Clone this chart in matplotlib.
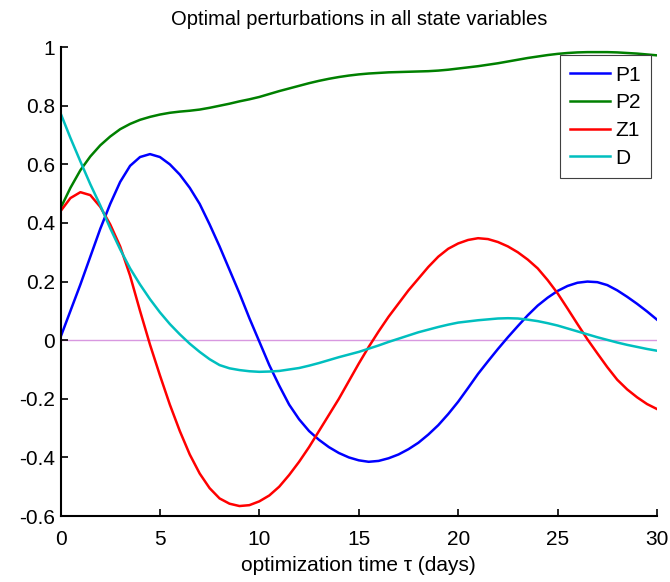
import numpy as np
import matplotlib
matplotlib.use("Agg")
from matplotlib import pyplot as plt

plt.rcParams['font.family'] = ['Liberation Sans', 'DejaVu Sans']

# optimization time (days), half-day samples
tau = np.arange(0, 61) * 0.5

p1 = [0.01, 0.10, 0.19, 0.285, 0.38, 0.465, 0.54, 0.595, 0.625, 0.635,
      0.625, 0.60, 0.565, 0.52, 0.465, 0.395, 0.32, 0.24, 0.16, 0.075,
      -0.005, -0.085, -0.155, -0.22, -0.27, -0.31, -0.34, -0.365, -0.385, -0.40,
      -0.41, -0.415, -0.412, -0.403, -0.39, -0.372, -0.35, -0.322, -0.29, -0.252,
      -0.21, -0.163, -0.115, -0.072, -0.03, 0.01, 0.048, 0.085, 0.118, 0.145,
      0.168, 0.185, 0.196, 0.2, 0.198, 0.188, 0.17, 0.148, 0.124, 0.098,
      0.07]
p2 = [0.45, 0.52, 0.58, 0.627, 0.665, 0.695, 0.72, 0.738, 0.752, 0.762,
      0.77, 0.776, 0.78, 0.783, 0.787, 0.793, 0.80, 0.807, 0.815, 0.822,
      0.83, 0.84, 0.85, 0.859, 0.868, 0.877, 0.885, 0.892, 0.898, 0.903,
      0.907, 0.91, 0.912, 0.914, 0.915, 0.916, 0.917, 0.918, 0.92, 0.923,
      0.927, 0.931, 0.935, 0.94, 0.945, 0.951, 0.957, 0.963, 0.968, 0.973,
      0.977, 0.98, 0.982, 0.983, 0.983, 0.983, 0.982, 0.98, 0.978, 0.975,
      0.972]
z1 = [0.44, 0.485, 0.505, 0.495, 0.455, 0.395, 0.32, 0.22, 0.10, -0.015,
      -0.12, -0.22, -0.31, -0.39, -0.455, -0.505, -0.54, -0.558, -0.566, -0.563,
      -0.55, -0.53, -0.5, -0.46, -0.415, -0.365, -0.31, -0.255, -0.2, -0.14,
      -0.08, -0.023, 0.03, 0.08, 0.125, 0.17, 0.21, 0.25, 0.285, 0.312,
      0.33, 0.342, 0.348, 0.345, 0.335, 0.32, 0.3, 0.275, 0.245, 0.205,
      0.16, 0.108, 0.055, 0.003, -0.045, -0.092, -0.135, -0.168, -0.195, -0.218,
      -0.235]
d = [0.775, 0.69, 0.61, 0.532, 0.46, 0.382, 0.31, 0.245, 0.19, 0.14,
     0.095, 0.055, 0.02, -0.012, -0.04, -0.065, -0.085, -0.096, -0.102, -0.106,
     -0.108, -0.107, -0.105, -0.1, -0.095, -0.087, -0.078, -0.068, -0.058, -0.049,
     -0.04, -0.029, -0.018, -0.006, 0.005, 0.016, 0.027, 0.036, 0.045, 0.053,
     0.06, 0.064, 0.068, 0.071, 0.074, 0.075, 0.074, 0.07, 0.065, 0.058,
     0.05, 0.04, 0.03, 0.02, 0.01, 0.001, -0.008, -0.016, -0.023, -0.03,
     -0.036]

names = ['P1', 'P2', 'Z1', 'D']
colors = ['#0000ff', '#008000', '#ff0000', '#00bfbf']

yticks = [-0.6, -0.4, -0.2, 0, 0.2, 0.4, 0.6, 0.8, 1]
ylabels = ['-0.6', '-0.4', '-0.2', '0', '0.2', '0.4', '0.6', '0.8', '1']

fig = plt.figure(figsize=(6.7, 5.82), dpi=100)
ax = fig.add_axes([0.0903, 0.1134, 0.8903, 0.8056])

for y, name, c in zip([p1, p2, z1, d], names, colors):
    ax.plot(tau, y, color=c, lw=1.8, label=name)

ax.axhline(0, color='#d898e0', lw=1.0, zorder=0)

ax.set_xlim(0, 30)
ax.set_ylim(-0.6, 1)
ax.set_xticks([0, 5, 10, 15, 20, 25, 30])
ax.set_yticks(yticks)
ax.set_yticklabels(ylabels)
ax.tick_params(direction='in', length=5, width=1.2, labelsize=15)
ax.tick_params(axis='y', pad=4)
ax.tick_params(axis='x', pad=10)
ax.spines['top'].set_visible(False)
ax.spines['right'].set_visible(False)
ax.spines['left'].set_linewidth(1.5)
ax.spines['bottom'].set_linewidth(1.5)

ax.set_title('Optimal perturbations in all state variables', fontsize=14.5, pad=16)
ax.set_xlabel('optimization time \u03c4 (days)', fontsize=15, labelpad=5)

leg = ax.legend(loc='upper right', bbox_to_anchor=(0.99, 0.983), fontsize=15,
                fancybox=False, framealpha=1, edgecolor='#404040',
                handlelength=1.9, handletextpad=0.25, borderpad=0.5,
                labelspacing=0.42, borderaxespad=0)
leg.get_frame().set_linewidth(0.8)

fig.savefig('out.png', dpi=100)
